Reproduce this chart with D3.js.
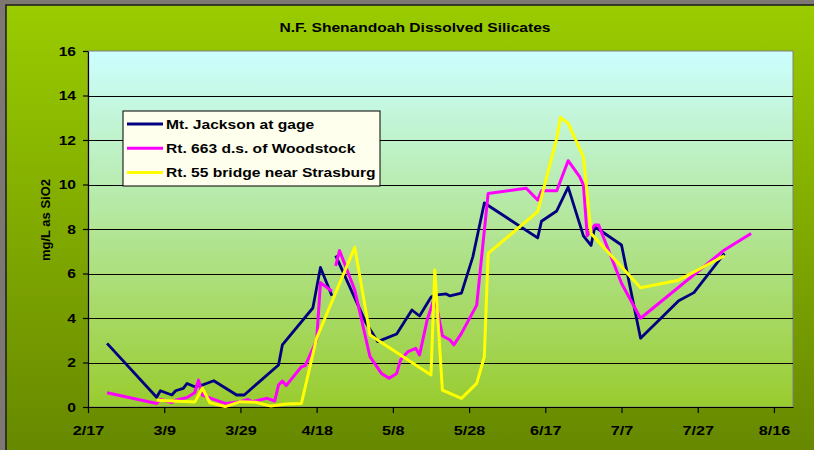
<!DOCTYPE html>
<html>
<head>
<meta charset="utf-8">
<script src="https://cdn.jsdelivr.net/npm/d3@7"></script>
<style>
  html, body { margin: 0; padding: 0; background: #7d7872; }
  svg { display: block; }
  text { font-family: "Liberation Sans", Arial, sans-serif; font-weight: bold; fill: #000; }
</style>
</head>
<body>
<svg id="Vis" width="814" height="450"></svg>
<script>
/*
* DATA
*/

const year = 2003;

const xTickLabels = ["2/17", "3/9", "3/29", "4/18", "5/8", "5/28", "6/17", "7/7", "7/27", "8/16"];
const yTickValues = [0, 2, 4, 6, 8, 10, 12, 14, 16];

const seriesNames = ["Mt. Jackson at gage", "Rt. 663 d.s. of Woodstock", "Rt. 55 bridge near Strasburg"];
const seriesColors = ["#000080", "#ff00ff", "#ffff00"];

/* Mt. Jackson at gage (null = gap in the line) */
const jacksonDates = ["2/22", "3/7", "3/8", "3/11", "3/12", "3/14", "3/15", "3/17", "3/19", "3/22",
  "3/28", "3/30", "4/3", "4/8", "4/9", "4/17", "4/19", "4/22", "4/22", "4/23",
  "5/1", "5/4", "5/9", "5/13", "5/15", "5/18", "5/19", "5/22", "5/23", "5/26",
  "5/29", "6/1", "6/15", "6/16", "6/20", "6/23", "6/27", "6/29", "6/30", "7/7",
  "7/12", "7/22", "7/26", "8/3"];
const jacksonValues = [2.86, 0.44, 0.73, 0.54, 0.73, 0.84, 1.06, 0.91, 0.99, 1.18,
  0.54, 0.54, 1.14, 1.89, 2.79, 4.45, 6.27, 5.0, null, 6.8,
  3.76, 2.94, 3.28, 4.36, 4.09, 4.93, 5.03, 5.08, 4.99, 5.12,
  6.76, 9.17, 7.6, 8.35, 8.81, 9.88, 7.69, 7.26, 8.1, 7.28,
  3.09, 4.78, 5.14, 6.9];

/* Rt. 663 d.s. of Woodstock */
const woodstockDates = ["2/22", "3/7", "3/8", "3/11", "3/12", "3/15", "3/17", "3/18", "3/19", "3/22",
  "3/25", "3/29", "3/31", "4/1", "4/5", "4/7", "4/8", "4/9", "4/10", "4/14",
  "4/15", "4/18", "4/19", "4/22", "4/22", "4/23", "4/24", "4/28", "5/2", "5/5",
  "5/7", "5/9", "5/10", "5/12", "5/14", "5/15", "5/17", "5/19", "5/21", "5/23",
  "5/24", "5/26", "5/30", "6/2", "6/12", "6/15", "6/16", "6/20", "6/21", "6/23",
  "6/26", "6/27", "6/28", "6/30", "7/1", "7/7", "7/12", "8/3", "8/10"];
const woodstockValues = [0.64, 0.16, 0.34, 0.2, 0.31, 0.43, 0.64, 1.21, 0.54, 0.34,
  0.16, 0.24, 0.34, 0.24, 0.39, 0.27, 0.99, 1.17, 0.96, 1.81,
  1.86, 3.0, 5.59, 5.2, null, 6.34, 7.03, 5.26, 2.26, 1.51,
  1.29, 1.51, 2.11, 2.49, 2.64, 2.34, 3.91, 4.96, 3.2, 3.01,
  2.79, 3.31, 4.58, 9.6, 9.83, 9.3, 9.72, 9.72, 10.17, 11.07,
  10.35, 9.98, 7.7, 8.18, 8.18, 5.56, 3.99, 7.06, 7.8];

/* Rt. 55 bridge near Strasburg */
const strasburgDates = ["3/7", "3/17", "3/19", "3/21", "3/25", "3/29", "4/2", "4/6", "4/10", "4/14",
  "4/18", "4/28", "5/2", "5/18", "5/19", "5/21", "5/26", "5/30", "6/1", "6/2",
  "6/15", "6/20", "6/21", "6/23", "6/27", "6/29", "7/12", "7/22", "8/3"];
const strasburgValues = [0.3, 0.22, 0.84, 0.19, 0.02, 0.24, 0.21, 0.04, 0.13, 0.16,
  3.1, 7.18, 3.24, 1.44, 6.16, 0.76, 0.39, 1.06, 2.26, 6.9,
  8.78, 12.07, 13.02, 12.75, 11.25, 7.8, 5.36, 5.7, 6.8];


/*
* SETUP
*/

const svg = d3.select("svg#Vis");

const plot = { left: 88, right: 793, top: 51, bottom: 407 };
const textStretch = 1.2;

const parseDay = d3.timeParse("%m/%d/%Y");
function toDate(label) {
  return parseDay(label + "/" + year);
}

const x = d3.scaleTime()
  .domain([toDate("2/17"), toDate("8/21")])
  .range([plot.left, plot.right]);

const y = d3.scaleLinear()
  .domain([0, 16])
  .range([plot.bottom, plot.top]);

const series = [
  { dates: jacksonDates, values: jacksonValues, width: 2.8 },
  { dates: woodstockDates, values: woodstockValues, width: 3 },
  { dates: strasburgDates, values: strasburgValues, width: 3 }
].map((s, i) => ({
  name: seriesNames[i],
  color: seriesColors[i],
  width: s.width,
  points: s.dates.map((d, j) => ({ date: toDate(d), value: s.values[j] }))
}));

/* Gradients */
const defs = svg.append("defs");

const chartGrad = defs.append("linearGradient")
  .attr("id", "chartGrad")
  .attr("x1", 0).attr("y1", 0).attr("x2", 0).attr("y2", 1);
chartGrad.append("stop").attr("offset", "0%").attr("stop-color", "#9acc00");
chartGrad.append("stop").attr("offset", "100%").attr("stop-color", "#658600");

const plotGrad = defs.append("linearGradient")
  .attr("id", "plotGrad")
  .attr("x1", 0).attr("y1", 0).attr("x2", 0).attr("y2", 1);
plotGrad.append("stop").attr("offset", "0%").attr("stop-color", "#ccffff");
plotGrad.append("stop").attr("offset", "100%").attr("stop-color", "#99cc2e");


/*
* BACKGROUND
*/

svg.append("rect")
  .attr("x", 6).attr("y", 5)
  .attr("width", 820).attr("height", 460)
  .attr("fill", "url(#chartGrad)")
  .attr("stroke", "#1a1a1a")
  .attr("stroke-width", 1.5);

svg.append("rect")
  .attr("x", plot.left).attr("y", plot.top)
  .attr("width", plot.right - plot.left)
  .attr("height", plot.bottom - plot.top)
  .attr("fill", "url(#plotGrad)")
  .attr("stroke", "#808080")
  .attr("stroke-width", 1);

/* Grid lines */
svg.append("g")
  .attr("class", "grid")
  .selectAll("line")
  .data(yTickValues.filter(v => v > 0 && v < 16))
  .join("line")
    .attr("x1", plot.left)
    .attr("x2", plot.right)
    .attr("y1", d => Math.round(y(d)) + 0.5)
    .attr("y2", d => Math.round(y(d)) + 0.5)
    .attr("stroke", "#000")
    .attr("stroke-width", 1);


/*
* AXES
*/

const xAxis = d3.axisBottom(x)
  .tickValues(xTickLabels.map(toDate))
  .tickFormat(d3.timeFormat("%-m/%-d"))
  .tickSize(6)
  .tickSizeOuter(0)
  .tickPadding(12);

const gx = svg.append("g")
  .attr("transform", translate(0, plot.bottom))
  .call(xAxis);

gx.selectAll("text")
  .attr("font-size", 13.5)
  .attr("dy", "0.71em")
  .attr("transform", "scale(" + textStretch + ",1)");

const yAxis = d3.axisLeft(y)
  .tickValues(yTickValues)
  .tickSize(5)
  .tickSizeOuter(0)
  .tickPadding(7);

const gy = svg.append("g")
  .attr("transform", translate(plot.left, 0))
  .call(yAxis);

gy.selectAll("text")
  .attr("font-size", 13)
  .attr("x", -12 / textStretch)
  .attr("transform", "scale(" + textStretch + ",1)");

svg.selectAll(".domain, .tick line")
  .attr("stroke", "#000")
  .attr("stroke-width", 1.2);


/*
* LINES
*/

const line = d3.line()
  .defined(d => d.value !== null)
  .x(d => x(d.date))
  .y(d => y(d.value));

svg.append("g")
  .attr("class", "series")
  .selectAll("path")
  .data(series)
  .join("path")
    .attr("d", d => line(d.points))
    .attr("fill", "none")
    .attr("stroke", d => d.color)
    .attr("stroke-width", d => d.width)
    .attr("stroke-linejoin", "round");


/*
* TITLES
*/

svg.append("text")
  .attr("transform", translate(415, 32) + " scale(" + textStretch + ",1)")
  .attr("text-anchor", "middle")
  .attr("font-size", 13)
  .text("N.F. Shenandoah Dissolved Silicates");

svg.append("text")
  .attr("transform", translate(50, 220) + " rotate(-90)")
  .attr("text-anchor", "middle")
  .attr("font-size", 13)
  .text("mg/L as SiO2");


/*
* LEGEND
*/

const legend = svg.append("g")
  .attr("class", "legend")
  .attr("transform", translate(123, 111));

legend.append("rect")
  .attr("width", 257)
  .attr("height", 75)
  .attr("fill", "#ffffee")
  .attr("stroke", "#000")
  .attr("stroke-width", 1);

const items = legend.selectAll("g.item")
  .data(series)
  .join("g")
    .attr("class", "item")
    .attr("transform", (d, i) => translate(0, 13 + i * 24.3));

items.append("line")
  .attr("x1", 4).attr("x2", 40)
  .attr("stroke", d => d.color)
  .attr("stroke-width", 3);

items.append("text")
  .attr("transform", translate(43, 4.5) + " scale(" + textStretch + ",1)")
  .attr("font-size", 13)
  .text(d => d.name);


/*
* HELPER FUNCTIONS
*/

function translate(x, y) {
  return 'translate(' + String(x) + ',' + String(y) + ')';
}
</script>
</body>
</html>
